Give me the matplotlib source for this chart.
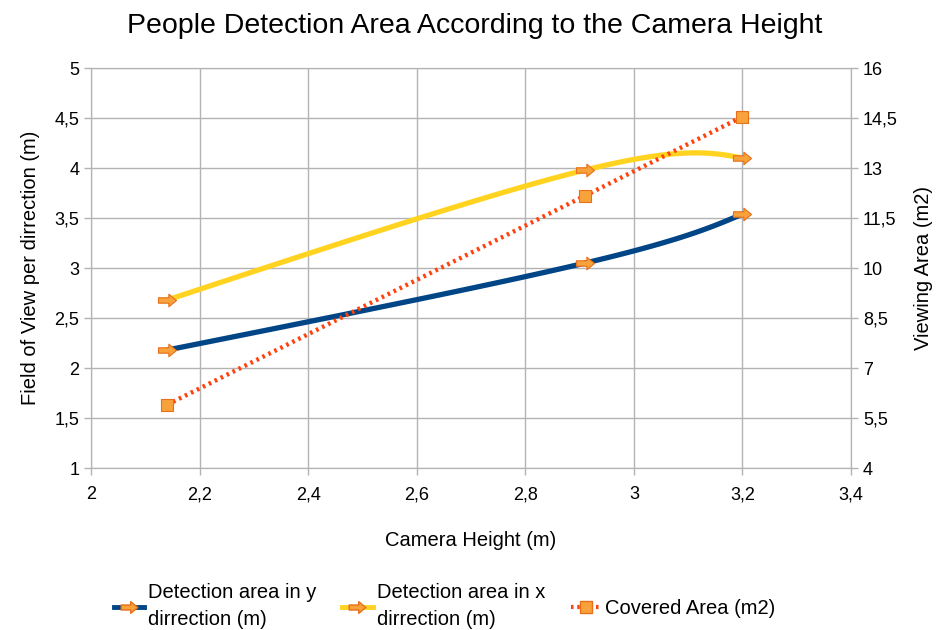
import matplotlib
matplotlib.use("Agg")

import numpy as np
import matplotlib.pyplot as plt
from matplotlib.path import Path
from matplotlib.lines import Line2D

plt.rcParams['font.family'] = ['Liberation Sans', 'DejaVu Sans']

# Data
heights = [2.14, 2.91, 3.2]
det_y = [2.18, 3.05, 3.54]
det_x = [2.68, 3.98, 4.10]
covered = [5.90, 12.17, 14.54]

x_ticks = [2, 2.2, 2.4, 2.6, 2.8, 3, 3.2, 3.4]
left_ticks = [1, 1.5, 2, 2.5, 3, 3.5, 4, 4.5, 5]
right_ticks = [4, 5.5, 7, 8.5, 10, 11.5, 13, 14.5, 16]


def natural_spline(vals, n=60):
    # natural cubic spline over a uniform parameter (index) t
    v = np.asarray(vals, dtype=float)
    k = len(v)
    d = np.diff(v)
    M = np.zeros(k)
    if k > 2:
        A = np.zeros((k - 2, k - 2))
        b = 6 * (d[1:] - d[:-1])
        for i in range(k - 2):
            A[i, i] = 4
            if i > 0:
                A[i, i - 1] = 1
            if i < k - 3:
                A[i, i + 1] = 1
        M[1:-1] = np.linalg.solve(A, b)
    out = []
    for i in range(k - 1):
        u = np.linspace(0, 1, n)
        s = (M[i] * (1 - u) ** 3 / 6 + M[i + 1] * u ** 3 / 6
             + (v[i] - M[i] / 6) * (1 - u) + (v[i + 1] - M[i + 1] / 6) * u)
        out.append(s if i == 0 else s[1:])
    return np.concatenate(out)


def smooth(xs, ys):
    return natural_spline(xs), natural_spline(ys)


# arrow-shaped marker like the original chart
arrow = Path([(-1, -0.3), (0.15, -0.3), (0.15, -0.7), (1, 0), (0.15, 0.7),
              (0.15, 0.3), (-1, 0.3), (-1, -0.3)],
             [Path.MOVETO] + [Path.LINETO] * 6 + [Path.CLOSEPOLY])

blue = '#004586'
yellow = '#ffd320'
red = '#ff420e'
mk_face = '#f7a23a'
mk_edge = '#e8701a'

fig = plt.figure(figsize=(9.5, 6.3), dpi=100)
ax = fig.add_axes([0.0958, 0.257, 0.8, 0.635])
ax2 = ax.twinx()

sx, sy = smooth(heights, det_y)
ax.plot(sx, sy, color=blue, lw=3.8, solid_capstyle='butt')
ax.plot(heights, det_y, ls='none', marker=arrow, ms=13,
        mfc=mk_face, mec=mk_edge, mew=0.8)

sx, sy = smooth(heights, det_x)
ax.plot(sx, sy, color=yellow, lw=3.8, solid_capstyle='butt')
ax.plot(heights, det_x, ls='none', marker=arrow, ms=13,
        mfc=mk_face, mec=mk_edge, mew=0.8)

sx, sy = smooth(heights, covered)
ax2.plot(sx, sy, color=red, lw=3.2, ls=(0, (0.6, 0.9)))
ax2.plot(heights, covered, ls='none', marker='s', ms=9,
         mfc=mk_face, mec=mk_edge, mew=0.8)

ax.set_xlim(2, 3.4)
ax.set_ylim(1, 5)
ax2.set_ylim(4, 16)
ax.set_xticks(x_ticks)
ax.set_yticks(left_ticks)
ax2.set_yticks(right_ticks)
ax.set_xticklabels([f"{t:g}".replace('.', ',') for t in x_ticks])
ax.set_yticklabels([f"{t:g}".replace('.', ',') for t in left_ticks])
ax2.set_yticklabels([f"{t:g}".replace('.', ',') for t in right_ticks])

ax.grid(True, color='#b3b3b3', lw=1)
ax.set_axisbelow(True)
for a in (ax, ax2):
    for sp in a.spines.values():
        sp.set_color('#b3b3b3')
    a.tick_params(colors='#b3b3b3', labelcolor='black', labelsize=13,
                  length=5, width=1)
ax.tick_params(axis='x', pad=8)

ax.set_xlabel("Camera Height (m)", fontsize=14.5, labelpad=20)
ax.set_ylabel("Field of View per dirrection (m)", fontsize=14.5, labelpad=10)
ax2.set_ylabel("Viewing Area (m2)", fontsize=14.5, labelpad=12)
fig.suptitle("People Detection Area According to the Camera Height",
             fontsize=20.5, y=0.98)

handles = [
    Line2D([], [], color=blue, lw=3.5, marker=arrow, ms=12,
           mfc=mk_face, mec=mk_edge),
    Line2D([], [], color=yellow, lw=3.5, marker=arrow, ms=12,
           mfc=mk_face, mec=mk_edge),
    Line2D([], [], color=red, lw=3, ls=(0, (0.6, 0.9)), marker='s', ms=8,
           mfc=mk_face, mec=mk_edge),
]
labels = ["Detection area in y\ndirrection (m)",
          "Detection area in x\ndirrection (m)",
          "Covered Area (m2)"]
leg = fig.legend(handles, labels, loc='center', bbox_to_anchor=(0.468, 0.038),
                 ncol=3, frameon=False, fontsize=14.5, handlelength=1.5,
                 handletextpad=0.2, columnspacing=1.3)
for t in leg.get_texts():
    t.set_linespacing(1.5)

plt.savefig("out.png", dpi=100)
plt.close()
